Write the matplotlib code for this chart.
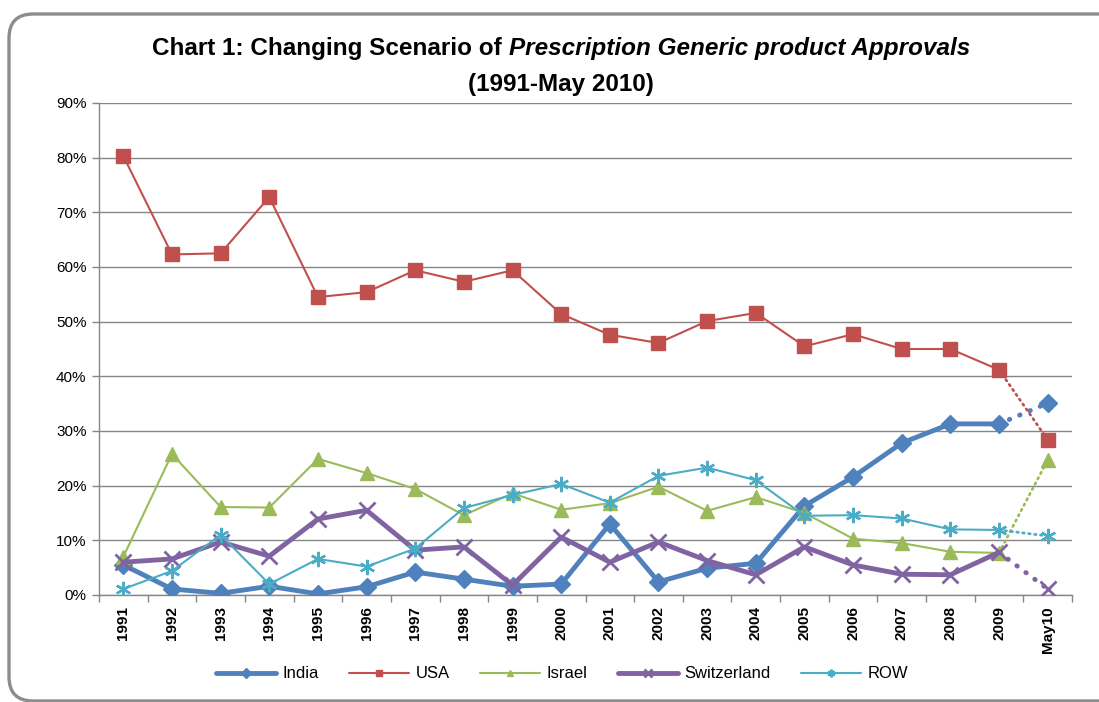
import matplotlib
matplotlib.use("Agg")
import matplotlib.pyplot as plt
from matplotlib.patches import FancyBboxPatch
from matplotlib.ticker import FuncFormatter, FixedLocator

plt.rcParams['font.family'] = ['Liberation Sans Narrow', 'Liberation Sans', 'DejaVu Sans']

categories = ["1991", "1992", "1993", "1994", "1995", "1996", "1997", "1998", "1999", "2000",
              "2001", "2002", "2003", "2004", "2005", "2006", "2007", "2008", "2009", "May10"]

india = [5.5, 1.1, 0.3, 1.6, 0.2, 1.5, 4.2, 2.9, 1.6, 2.0,
         13.0, 2.4, 4.9, 5.8, 16.3, 21.6, 27.8, 31.3, 31.3, 35.1]
usa = [80.3, 62.3, 62.5, 72.8, 54.5, 55.4, 59.4, 57.3, 59.4, 51.4,
       47.6, 46.1, 50.1, 51.6, 45.5, 47.7, 45.0, 45.0, 41.2, 28.4]
israel = [7.0, 25.8, 16.1, 16.0, 24.9, 22.3, 19.4, 14.6, 18.6, 15.6,
          16.8, 19.8, 15.4, 17.9, 15.0, 10.3, 9.5, 7.9, 7.7, 24.7]
switzerland = [6.0, 6.6, 9.7, 7.1, 13.9, 15.5, 8.2, 8.8, 1.8, 10.6,
               6.0, 9.7, 6.3, 3.7, 8.8, 5.5, 3.8, 3.7, 7.8, 1.1]
row = [1.1, 4.4, 11.0, 2.0, 6.6, 5.2, 8.5, 15.9, 18.3, 20.3,
       16.9, 21.8, 23.3, 21.0, 14.5, 14.6, 14.0, 12.0, 11.9, 10.8]

series = [
    ("India", india, "#4F81BD", "D", 9.5, 3.5, 1.0),
    ("USA", usa, "#C0504D", "s", 10, 1.5, 1.0),
    ("Israel", israel, "#9BBB59", "^", 10, 1.5, 1.0),
    ("Switzerland", switzerland, "#8064A2", "x", 12, 3.5, 2.0),
    ("ROW", row, "#4BACC6", (6, 2, 0), 11, 1.5, 1.7),
]

W, H = 1099, 702
fig = plt.figure(figsize=(W / 100, H / 100), dpi=100)
fig.patch.set_facecolor("white")

# rounded frame
frame = FancyBboxPatch((9 / W, 1 - 701 / H), 1130 / W, (701 - 14) / H,
                       boxstyle="round,pad=0,rounding_size=0.022",
                       transform=fig.transFigure, facecolor="none",
                       edgecolor="#8C8C8C", linewidth=2.4, clip_on=False, zorder=0,
                       mutation_aspect=W / H)
fig.patches.append(frame)

ax = fig.add_axes([99 / W, 1 - 595 / H, (1072 - 99) / W, (595 - 103) / H])
x = list(range(len(categories)))
n = len(categories)

handles = []
for name, vals, color, marker, ms, lw, mew in series:
    h, = ax.plot(x[:n - 1], vals[:n - 1], color=color, lw=lw, marker=marker, ms=ms,
                 mew=mew, mec=color, mfc=color, solid_joinstyle="round",
                 solid_capstyle="round", zorder=3, label=name)
    ax.plot(x[n - 2:], vals[n - 2:], color=color,
            lw=lw * (1.0 if lw > 2 else 1.3),
            linestyle=(0, (0.1, 2.2)) if lw > 2 else (0, (0.6, 1.6)),
            dash_capstyle="round", zorder=3)
    ax.plot(x[n - 1:], vals[n - 1:], color=color, lw=0, marker=marker, ms=ms,
            mew=mew, mec=color, mfc=color, zorder=4)
    handles.append(h)

ax.set_xlim(-0.5, n - 0.5)
ax.set_ylim(0, 90)
ax.set_yticks(range(0, 91, 10))
ax.yaxis.set_major_formatter(FuncFormatter(lambda v, p: f"{int(v)}%"))
ax.grid(axis="y", color="#868686", lw=1.0)
ax.set_axisbelow(True)

ax.set_xticks(x)
ax.set_xticklabels(categories, rotation=90, fontweight="bold", fontsize=11)
ax.xaxis.set_minor_locator(FixedLocator([i - 0.5 for i in range(n + 1)]))
ax.tick_params(axis="x", which="major", length=0, pad=8)
ax.tick_params(axis="x", which="minor", length=5, color="#868686", width=1)
ax.tick_params(axis="y", length=5, color="#868686", width=1, labelsize=11, pad=4)

for s in ["top", "right"]:
    ax.spines[s].set_visible(False)
for s in ["left", "bottom"]:
    ax.spines[s].set_color("#868686")
    ax.spines[s].set_linewidth(1.0)

fig.legend(handles=handles, labels=[s[0] for s in series], loc="center",
           bbox_to_anchor=(562 / W, 1 - 674 / H), ncol=5, frameon=False,
           fontsize=12, handlelength=3.6, columnspacing=1.8, handletextpad=0.4,
           markerscale=0.5)

# Title with mixed styles
fig.canvas.draw()
r = fig.canvas.get_renderer()
tsize = 17.5
parts = [("Chart 1: Changing Scenario of ", "normal"),
         ("Prescription Generic product Approvals", "italic")]
texts = []
for s, st in parts:
    t = fig.text(0, 1 - 48 / H, s, fontsize=tsize, fontweight="bold", fontstyle=st,
                 va="center", ha="left")
    texts.append(t)
widths = [t.get_window_extent(r).width for t in texts]
total = sum(widths)
cx = 561
xs = cx - total / 2
for t, w in zip(texts, widths):
    t.set_x(xs / W)
    xs += w
fig.text(cx / W, 1 - 84 / H, "(1991-May 2010)", fontsize=tsize, fontweight="bold",
         ha="center", va="center")

fig.savefig("out.png", dpi=100, facecolor="white")
